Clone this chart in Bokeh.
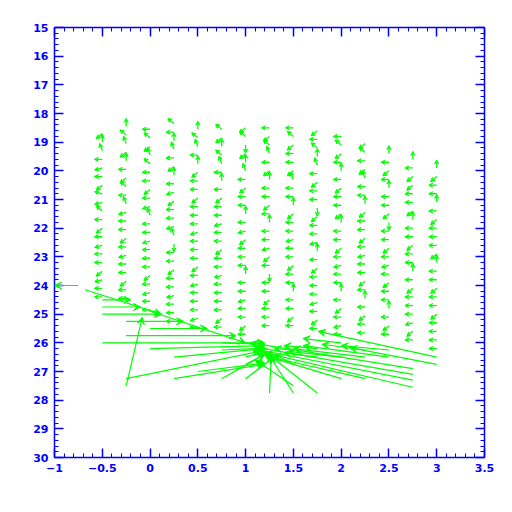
import math
from bokeh.plotting import figure
from bokeh.models import (Range1d, LinearAxis, SingleIntervalTicker, Arrow, VeeHead,
                          ColumnDataSource, CustomJSTickFormatter)
from bokeh.embed import file_html
from bokeh.resources import INLINE

# ---- data: small vectors on a grid (column x, first row y, direction codes per row) ----
col_x = [-0.5, -0.25, 0.0, 0.25, 0.5, 0.75, 1.0, 1.25, 1.5, 1.75, 2.0, 2.25, 2.5, 2.75, 3.0]
col_top = [18.7, 18.45, 18.55, 18.35, 18.55, 18.55, 18.5, 18.5, 18.5, 18.6, 18.8, 19.05, 19.4, 19.6, 19.9]
col_dirs = [
    "ekgacaebcdaeacaaecaa",
    "kdgekaedagcaaeacaaeaa",
    "adegdaaeacgaacaaaeacaa",
    "dakgaekaceaacghaaeaacaaa",
    "kdgakeaaeaaacaaaeacaaaca",
    "dekdgakaeaacaaeaacaaaaea",
    "edhekgaeaakaceaaakaacaaea",
    "aedgaekaaeakaaceahaaeaaa",
    "adeaaegaakeaacaaeaakaaea",
    "eadkgaeaaheaackaeaaacaea",
    "adeakaeaaekaaeacaakaeaca",
    "edaegaakeaaeacaaeakaeaa",
    "kaeakaaehaaeacaeaakaea",
    "kaeeaaekaaeaakaeaaacea",
    "keaakaeaaaekaaeaaeaaaa",
]
row_step = 0.3
dir_angle = {'a': 180, 'b': 165, 'c': 195, 'd': 140, 'e': 220, 'f': 250,
             'g': 110, 'h': 270, 'k': 90, 'm': 320, 'n': 40}

# ---- data: large vectors (tail -> head) ----
long_x0 = [-0.75, -0.68, -0.5, -0.5, -0.5, 0.0, -0.25, 0.0, -0.25, -0.5, 0.0, 0.25, -0.25, -0.25,
           0.25, 0.5, 0.75, 1.0, 3.0, 3.0, 2.75, 2.75, 2.75, 2.75, 2.25, 2.0, 1.75, 1.5, 1.25, 1.5,
           0.75, 2.0, 2.25, 2.5, 1.75, 2.5, 2.25, 2.0, 1.75, 1.5, 1.0, 0.75, 1.0, 1.5, 1.0]
long_y0 = [24.0, 24.15, 24.5, 24.75, 25.0, 24.9, 25.25, 25.5, 25.75, 26.0, 26.2, 26.5, 27.25, 27.5,
           27.25, 27.0, 27.25, 27.25, 26.5, 26.75, 26.9, 27.1, 27.3, 27.55, 27.25, 27.25, 27.75, 27.75, 27.75, 27.5,
           26.0, 26.0, 26.25, 26.25, 26.2, 26.5, 26.5, 26.5, 26.5, 26.25, 26.0, 26.25, 26.5, 26.75, 26.75]
long_x1 = [-1.0, 0.12, -0.2, -0.1, 0.12, 1.0, 0.35, 0.6, 0.9, 1.2, 1.2, 1.2, 1.15, -0.08,
           1.2, 1.2, 1.2, 1.3, 1.76, 2.09, 1.05, 1.1, 1.15, 1.2, 1.2, 1.25, 1.2, 1.25, 1.27, 1.1,
           1.2, 1.6, 1.8, 2.0, 1.4, 1.6, 1.5, 1.45, 1.4, 1.3, 1.2, 1.15, 1.2, 1.3, 1.2]
long_y1 = [24.0, 25.0, 24.5, 24.75, 25.0, 26.0, 25.25, 25.5, 25.75, 26.0, 26.1, 26.2, 26.3, 25.1,
           26.75, 26.7, 26.4, 26.5, 25.6, 26.17, 26.0, 26.15, 26.25, 26.35, 26.45, 26.5, 26.3, 26.45, 26.4, 26.6,
           26.05, 25.85, 26.05, 26.1, 26.1, 26.1, 26.2, 26.3, 26.35, 26.2, 26.15, 26.2, 26.3, 26.4, 26.4]

y_ticks_major = 1
x_ticks_major = 0.5
x_tick_labels = {-1: "\u22121", -0.5: "\u22120.5", 0: "0", 0.5: "0.5", 1: "1", 1.5: "1.5",
                 2: "2", 2.5: "2.5", 3: "3", 3.5: "3.5"}

GREEN = "#00ff00"
BLUE = "#0000ff"

p = figure(width=504, height=504, output_backend="svg", toolbar_location=None,
           x_range=Range1d(-1, 3.5), y_range=Range1d(30, 15),
           min_border_left=54, min_border_top=27, min_border_right=20, min_border_bottom=47,
           x_axis_location=None, y_axis_location=None)
p.xgrid.visible = False
p.ygrid.visible = False
p.outline_line_color = None
p.background_fill_color = "white"
p.border_fill_color = "white"

# pixel scales for building short arrows of fixed screen length
px_x = 430 / 4.5
px_y = 430 / 15.0
L = 8.0

sx0, sy0, sx1, sy1 = [], [], [], []
for cx, top, dirs in zip(col_x, col_top, col_dirs):
    for i, ch in enumerate(dirs):
        y = top + i * row_step
        th = math.radians(dir_angle[ch])
        sx0.append(cx)
        sy0.append(y)
        sx1.append(cx + L * math.cos(th) / px_x)
        sy1.append(y - L * math.sin(th) / px_y)

small_src = ColumnDataSource(dict(x0=sx0, y0=sy0, x1=sx1, y1=sy1))
long_src = ColumnDataSource(dict(x0=long_x0, y0=long_y0, x1=long_x1, y1=long_y1))

p.add_layout(Arrow(end=VeeHead(size=4, fill_color=GREEN, line_color=GREEN, line_width=1),
                   x_start="x0", y_start="y0", x_end="x1", y_end="y1",
                   line_color=GREEN, line_width=1.3, source=small_src))
p.add_layout(Arrow(end=VeeHead(size=7, fill_color=GREEN, line_color=GREEN, line_width=1),
                   x_start="x0", y_start="y0", x_end="x1", y_end="y1",
                   line_color=GREEN, line_width=1.2, source=long_src))

blank = CustomJSTickFormatter(code="return ''")

def style(ax, interval, labels=True):
    ax.ticker = SingleIntervalTicker(interval=interval, num_minor_ticks=5)
    ax.axis_line_color = BLUE
    ax.axis_line_width = 1.5
    ax.major_tick_line_color = BLUE
    ax.minor_tick_line_color = BLUE
    ax.major_tick_line_width = 1.5
    ax.minor_tick_line_width = 1
    ax.major_tick_in = 9
    ax.major_tick_out = 0
    ax.minor_tick_in = 4
    ax.minor_tick_out = 0
    ax.major_label_text_color = BLUE
    ax.major_label_text_font = "DejaVu Sans"
    ax.major_label_text_font_size = "11px"
    ax.major_label_text_font_style = "bold"
    ax.major_label_standoff = 6
    if not labels:
        ax.formatter = blank

bottom = LinearAxis()
style(bottom, x_ticks_major)
bottom.major_label_overrides = x_tick_labels
left = LinearAxis()
style(left, y_ticks_major)
top_ax = LinearAxis()
style(top_ax, x_ticks_major, labels=False)
right_ax = LinearAxis()
style(right_ax, y_ticks_major, labels=False)

p.add_layout(bottom, "below")
p.add_layout(left, "left")
p.add_layout(top_ax, "above")
p.add_layout(right_ax, "right")

open("out.html", "w").write(file_html(p, INLINE))
